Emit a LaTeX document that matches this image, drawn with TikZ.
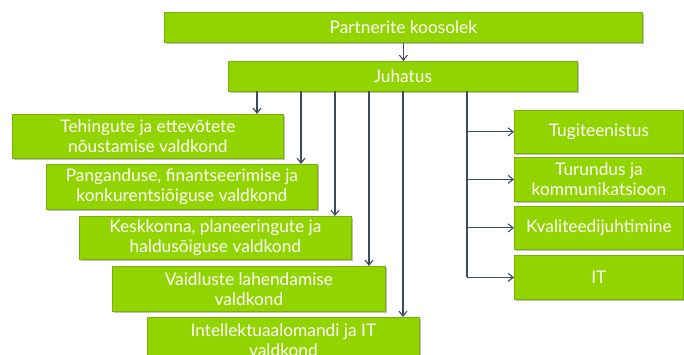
\documentclass[tikz,border=0pt]{standalone}
\usepackage{fontspec}
\setmainfont{Lato}
\usetikzlibrary{arrows.meta,shadows}

\definecolor{boxfill}{RGB}{146,212,0}
\definecolor{boxedge}{RGB}{118,178,0}
\definecolor{linkcol}{RGB}{62,76,98}

\tikzset{
  unitbox/.style={draw=boxedge, line width=0.8pt, fill=boxfill,
    drop shadow={shadow xshift=1.2pt, shadow yshift=-1.2pt, opacity=0.25, fill=black},
    text=white, font=\fontsize{17.3}{20}\selectfont, align=center,
    inner sep=0pt, anchor=north west},
  conn/.style={draw=linkcol, line width=1.1pt,
    -{Straight Barb[length=5pt,width=8pt,line width=1.1pt]}},
  trunk/.style={draw=linkcol, line width=1.1pt},
}

\newcommand{\unit}[6]{%
  % name, left, top, right, bottom, text
  \node[unitbox, minimum width=#4pt-#2pt, minimum height=#5pt-#3pt] (#1) at (#2,#3) {#6};}

\begin{document}
\begin{tikzpicture}[x=1pt,y=-1pt]
  \useasboundingbox (0,0) rectangle (684,355);
  \clip (0,0) rectangle (684,355);

  % governing bodies
  \unit{pk}{164}{12}{642}{42}{Partnerite koosolek}
  \unit{juh}{228}{61}{577}{91}{Juhatus}

  % practice areas
  \unit{a1}{12}{114}{283}{158}{Tehingute ja ettevõtete\\nõustamise valdkond}
  \unit{a2}{46}{164}{317}{209}{Panganduse, finantseerimise ja\\konkurentsiõiguse valdkond}
  \unit{a3}{79}{216}{351}{259}{Keskkonna, planeeringute ja\\haldusõiguse valdkond}
  \unit{a4}{112}{266}{385}{311}{Vaidluste lahendamise\\valdkond}
  \unit{a5}{147}{317}{419}{362}{Intellektuaalomandi ja IT\\valdkond}

  % support functions
  \unit{s1}{514}{110}{683}{153}{Tugiteenistus}
  \unit{s2}{514}{157}{683}{201}{Turundus ja\\kommunikatsioon}
  \unit{s3}{514}{206}{683}{249}{Kvaliteedijuhtimine}
  \unit{s4}{514}{255}{683}{299}{IT}

  % board under the partners' meeting
  \draw[conn] (pk.south) -- (pk.south |- juh.north);

  % drops from the board to each practice area
  \coordinate (d1) at (257,91);
  \coordinate (d2) at (301,91);
  \coordinate (d3) at (335,91);
  \coordinate (d4) at (369,91);
  \coordinate (d5) at (403,91);
  \draw[conn] (d1) -- (d1 |- a1.north);
  \draw[conn] (d2) -- (d2 |- a2.north);
  \draw[conn] (d3) -- (d3 |- a3.north);
  \draw[conn] (d4) -- (d4 |- a4.north);
  \draw[conn] (d5) -- (d5 |- a5.north);

  % trunk feeding the support functions
  \coordinate (t0) at (467,91);
  \draw[trunk] (t0) -- (t0 |- s4.west);
  \draw[conn] (t0 |- s1.west) -- (s1.west);
  \draw[conn] (t0 |- s2.west) -- (s2.west);
  \draw[conn] (t0 |- s3.west) -- (s3.west);
  \draw[conn] (t0 |- s4.west) -- (s4.west);
\end{tikzpicture}
\end{document}
